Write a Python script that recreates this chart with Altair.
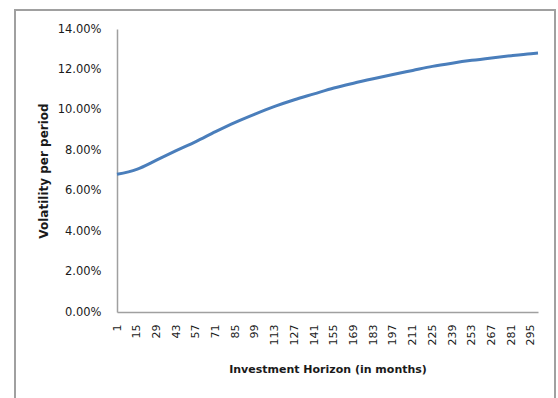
import altair as alt
import pandas as pd

# Investment horizon (months) and volatility per period
months = [1, 15, 29, 43, 57, 71, 85, 99, 113, 127, 141, 155, 169, 183, 197,
          211, 225, 239, 253, 267, 281, 295, 300]
volatility = [0.0681, 0.0706, 0.0751, 0.0798, 0.0843, 0.0892, 0.0938, 0.0979,
              0.1017, 0.1050, 0.1079, 0.1108, 0.1132, 0.1154, 0.1175, 0.1195,
              0.1215, 0.1231, 0.1245, 0.1257, 0.1268, 0.1278, 0.1281]
tick_months = [1, 15, 29, 43, 57, 71, 85, 99, 113, 127, 141, 155, 169, 183,
               197, 211, 225, 239, 253, 267, 281, 295]
y_ticks = [0.0, 0.02, 0.04, 0.06, 0.08, 0.10, 0.12, 0.14]

df = pd.DataFrame({"month": months, "vol": volatility})

PLOT_W, PLOT_H = 421, 283
PAD = {"left": 117, "top": 29, "right": 20, "bottom": 86}
TEXT = "#1a1a1a"

line = alt.Chart(df).mark_line(
    color="#4a7ebb", strokeWidth=3, interpolate="monotone"
).encode(
    x=alt.X(
        "month:Q",
        scale=alt.Scale(domain=[1, 300], nice=False, zero=False),
        axis=alt.Axis(
            values=tick_months,
            labelAngle=-90,
            labelPadding=12,
            ticks=False,
            grid=False,
            domainColor="#a0a0a0",
            domainWidth=1.5,
            labelFont="DejaVu Sans",
            labelFontSize=11,
            labelColor=TEXT,
            title="Investment Horizon (in months)",
            titleFont="DejaVu Sans",
            titleFontSize=11,
            titleFontWeight="bold",
            titleColor=TEXT,
            titlePadding=19,
            labelFlush=False,
            labelOverlap=False,
        ),
    ),
    y=alt.Y(
        "vol:Q",
        scale=alt.Scale(domain=[0, 0.14], nice=False),
        axis=alt.Axis(
            values=y_ticks,
            format=".2%",
            ticks=False,
            grid=False,
            labelPadding=16,
            domainColor="#a0a0a0",
            domainWidth=1.5,
            labelFont="DejaVu Sans",
            labelFontSize=11.5,
            labelColor=TEXT,
            title="Volatility per period",
            titleFont="DejaVu Sans",
            titleFontSize=12,
            titleFontWeight="bold",
            titleColor=TEXT,
            titlePadding=7,
            labelFlush=False,
        ),
    ),
)

# Outer chart border
frame = alt.Chart(pd.DataFrame({"k": [0]})).mark_rect(
    fill=None, stroke="#a0a0a0", strokeWidth=2, clip=False
).encode(
    x=alt.value(15 - PAD["left"]),
    x2=alt.value(555 - PAD["left"]),
    y=alt.value(10 - PAD["top"]),
    y2=alt.value(420 - PAD["top"]),
)

chart = alt.layer(frame, line).properties(
    width=PLOT_W,
    height=PLOT_H,
    padding=PAD,
    autosize=alt.AutoSizeParams(type="none"),
    background="white",
).configure_view(stroke=None)

chart.save("out.html", embed_options={"renderer": "svg", "actions": False})
